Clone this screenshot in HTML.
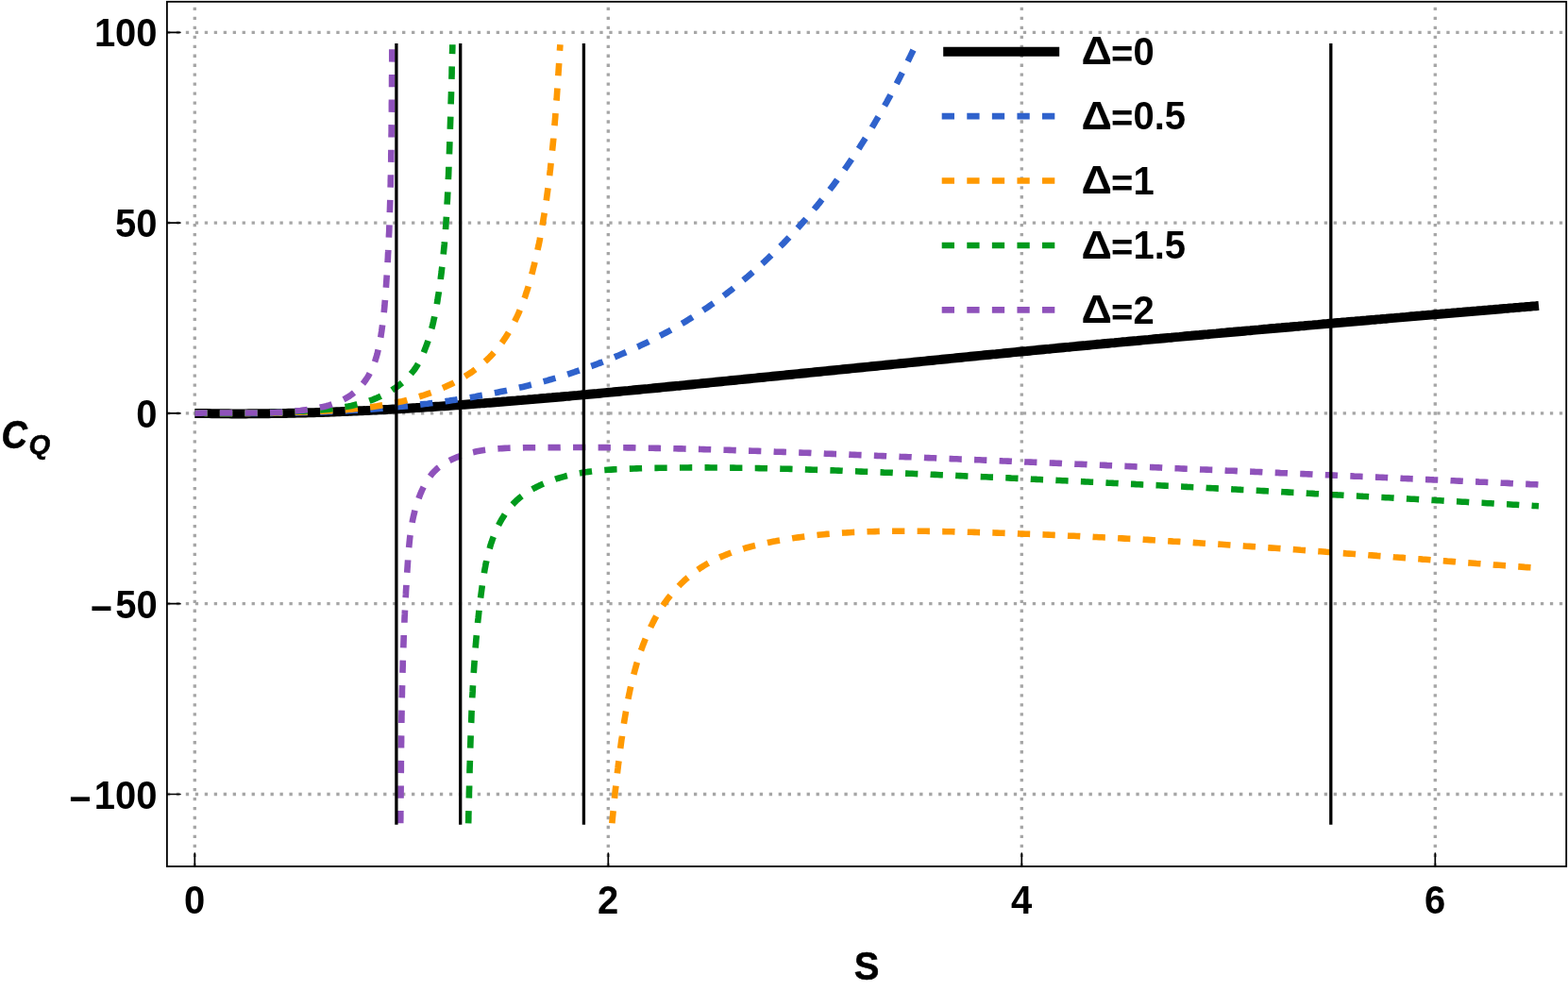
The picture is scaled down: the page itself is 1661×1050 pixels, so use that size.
<!DOCTYPE html>
<html lang="en">
<head>
<meta charset="utf-8">
<title>C_Q versus S</title>
<style>
html,body{margin:0;padding:0;background:#fff;}
body{width:1661px;height:1050px;overflow:hidden;}
svg{display:block;}
</style>
</head>
<body>
<svg width="1661" height="1050" viewBox="0 0 1661 1050">
<rect x="0" y="0" width="1661" height="1050" fill="#fff"/>
<g stroke="#a6a6a6" stroke-width="3.32" stroke-dasharray="3.32 6.646" fill="none">
<path d="M206.3,918.0 V1.8"/>
<path d="M644.3,918.0 V1.8"/>
<path d="M1082.3,918.0 V1.8"/>
<path d="M1520.3,918.0 V1.8"/>
<path d="M176.9,34.3 H1659.2"/>
<path d="M176.9,236.1 H1659.2"/>
<path d="M176.9,437.9 H1659.2"/>
<path d="M176.9,639.7 H1659.2"/>
<path d="M176.9,841.5 H1659.2"/>
</g>
<g fill="none" stroke-linejoin="round">
<path d="M206.3,437.9 L209.3,437.9 L212.3,438.0 L215.3,438.1 L218.3,438.1 L221.3,438.1 L224.3,438.2 L227.3,438.2 L230.4,438.3 L233.4,438.3 L236.4,438.3 L239.4,438.3 L242.4,438.3 L245.4,438.4 L248.4,438.4 L251.4,438.4 L254.4,438.4 L257.4,438.4 L260.5,438.4 L263.5,438.3 L266.5,438.3 L269.5,438.3 L272.5,438.3 L275.5,438.3 L278.5,438.2 L281.5,438.2 L284.5,438.2 L287.5,438.1 L290.5,438.1 L293.5,438.0 L296.6,438.0 L299.6,437.9 L302.6,437.9 L305.6,437.8 L308.6,437.8 L311.6,437.7 L314.6,437.6 L317.6,437.6 L320.6,437.5 L323.6,437.4 L326.6,437.3 L329.6,437.2 L332.6,437.2 L335.6,437.1 L338.6,437.0 L341.6,436.9 L344.7,436.8 L347.7,436.7 L350.7,436.6 L353.7,436.5 L356.7,436.3 L359.7,436.2 L362.7,436.1 L365.7,436.0 L368.7,435.9 L371.7,435.7 L374.7,435.6 L377.7,435.5 L380.7,435.3 L383.7,435.2 L386.7,435.1 L389.7,434.9 L392.7,434.8 L395.7,434.6 L398.7,434.5 L401.7,434.3 L404.7,434.2 L407.7,434.0 L410.7,433.9 L413.7,433.7 L416.7,433.5 L419.7,433.4 L422.8,433.2 L425.8,433.0 L428.8,432.9 L431.8,432.7 L434.8,432.5 L437.8,432.3 L440.8,432.1 L443.8,432.0 L446.8,431.8 L449.8,431.6 L452.8,431.4 L455.8,431.2 L458.8,431.0 L461.8,430.8 L464.8,430.6 L467.8,430.4 L470.8,430.2 L473.8,430.0 L476.8,429.8 L479.8,429.6 L482.8,429.4 L485.8,429.2 L488.8,428.9 L491.8,428.7 L494.8,428.5 L497.8,428.3 L500.8,428.1 L503.8,427.8 L506.8,427.6 L509.8,427.4 L512.8,427.2 L515.8,426.9 L518.8,426.7 L521.8,426.5 L524.8,426.2 L527.8,426.0 L530.8,425.8 L533.8,425.5 L536.8,425.3 L539.8,425.0 L542.8,424.8 L545.8,424.6 L548.7,424.3 L551.7,424.1 L554.7,423.8 L557.7,423.6 L560.7,423.3 L563.7,423.1 L566.7,422.8 L569.7,422.6 L572.7,422.3 L575.7,422.0 L578.7,421.8 L581.7,421.5 L584.7,421.3 L587.7,421.0 L590.7,420.7 L593.7,420.5 L596.7,420.2 L599.7,419.9 L602.7,419.7 L605.7,419.4 L608.7,419.1 L611.7,418.9 L614.7,418.6 L617.7,418.3 L620.7,418.1 L623.7,417.8 L626.7,417.5 L629.7,417.2 L632.7,417.0 L635.7,416.7 L638.7,416.4 L641.6,416.1 L644.6,415.8 L647.6,415.6 L650.6,415.3 L653.6,415.0 L656.6,414.7 L659.6,414.4 L662.6,414.1 L665.6,413.9 L668.6,413.6 L671.6,413.3 L674.6,413.0 L677.6,412.7 L680.6,412.4 L683.6,412.1 L686.6,411.9 L689.6,411.6 L692.6,411.3 L695.6,411.0 L698.6,410.7 L701.5,410.4 L704.5,410.1 L707.5,409.8 L710.5,409.5 L713.5,409.2 L716.5,408.9 L719.5,408.7 L722.5,408.4 L725.5,408.1 L728.5,407.8 L731.5,407.5 L734.5,407.2 L737.5,406.9 L740.5,406.6 L743.5,406.3 L746.5,406.0 L749.5,405.7 L752.4,405.4 L755.4,405.1 L758.4,404.8 L761.4,404.5 L764.4,404.2 L767.4,403.9 L770.4,403.6 L773.4,403.3 L776.4,403.0 L779.4,402.7 L782.4,402.4 L785.4,402.1 L788.4,401.8 L791.4,401.5 L794.4,401.2 L797.4,400.9 L800.3,400.6 L803.3,400.3 L806.3,400.0 L809.3,399.7 L812.3,399.4 L815.3,399.1 L818.3,398.8 L821.3,398.5 L824.3,398.2 L827.3,397.9 L830.3,397.6 L833.3,397.3 L836.3,397.0 L839.3,396.7 L842.3,396.4 L845.2,396.1 L848.2,395.8 L851.2,395.5 L854.2,395.2 L857.2,394.9 L860.2,394.6 L863.2,394.3 L866.2,394.0 L869.2,393.7 L872.2,393.4 L875.2,393.1 L878.2,392.8 L881.2,392.5 L884.2,392.2 L887.1,391.9 L890.1,391.6 L893.1,391.3 L896.1,391.0 L899.1,390.7 L902.1,390.4 L905.1,390.1 L908.1,389.8 L911.1,389.5 L914.1,389.2 L917.1,388.9 L920.1,388.6 L923.1,388.3 L926.1,388.0 L929.0,387.7 L932.0,387.4 L935.0,387.1 L938.0,386.8 L941.0,386.5 L944.0,386.2 L947.0,385.9 L950.0,385.6 L953.0,385.3 L956.0,385.0 L959.0,384.7 L962.0,384.4 L965.0,384.1 L968.0,383.8 L970.9,383.5 L973.9,383.2 L976.9,382.9 L979.9,382.6 L982.9,382.3 L985.9,382.0 L988.9,381.7 L991.9,381.4 L994.9,381.1 L997.9,380.8 L1000.9,380.5 L1003.9,380.2 L1006.9,379.9 L1009.9,379.6 L1012.9,379.3 L1015.8,379.0 L1018.8,378.7 L1021.8,378.4 L1024.8,378.1 L1027.8,377.8 L1030.8,377.5 L1033.8,377.2 L1036.8,376.9 L1039.8,376.6 L1042.8,376.3 L1045.8,376.0 L1048.8,375.7 L1051.8,375.4 L1054.8,375.2 L1057.8,374.9 L1060.7,374.6 L1063.7,374.3 L1066.7,374.0 L1069.7,373.7 L1072.7,373.4 L1075.7,373.1 L1078.7,372.8 L1081.7,372.5 L1084.7,372.2 L1087.7,372.0 L1090.7,371.7 L1093.7,371.4 L1096.7,371.1 L1099.7,370.8 L1102.7,370.5 L1105.7,370.2 L1108.6,369.9 L1111.6,369.7 L1114.6,369.4 L1117.6,369.1 L1120.6,368.8 L1123.6,368.5 L1126.6,368.2 L1129.6,367.9 L1132.6,367.7 L1135.6,367.4 L1138.6,367.1 L1141.6,366.8 L1144.6,366.5 L1147.6,366.2 L1150.6,366.0 L1153.6,365.7 L1156.6,365.4 L1159.6,365.1 L1162.5,364.8 L1165.5,364.6 L1168.5,364.3 L1171.5,364.0 L1174.5,363.7 L1177.5,363.4 L1180.5,363.2 L1183.5,362.9 L1186.5,362.6 L1189.5,362.3 L1192.5,362.1 L1195.5,361.8 L1198.5,361.5 L1201.5,361.2 L1204.5,361.0 L1207.5,360.7 L1210.5,360.4 L1213.5,360.1 L1216.5,359.9 L1219.5,359.6 L1222.5,359.3 L1225.4,359.0 L1228.4,358.8 L1231.4,358.5 L1234.4,358.2 L1237.4,357.9 L1240.4,357.7 L1243.4,357.4 L1246.4,357.1 L1249.4,356.9 L1252.4,356.6 L1255.4,356.3 L1258.4,356.0 L1261.4,355.8 L1264.4,355.5 L1267.4,355.2 L1270.4,355.0 L1273.4,354.7 L1276.4,354.4 L1279.4,354.2 L1282.4,353.9 L1285.4,353.6 L1288.4,353.4 L1291.4,353.1 L1294.3,352.8 L1297.3,352.6 L1300.3,352.3 L1303.3,352.0 L1306.3,351.8 L1309.3,351.5 L1312.3,351.2 L1315.3,351.0 L1318.3,350.7 L1321.3,350.4 L1324.3,350.2 L1327.3,349.9 L1330.3,349.6 L1333.3,349.4 L1336.3,349.1 L1339.3,348.8 L1342.3,348.6 L1345.3,348.3 L1348.3,348.0 L1351.3,347.8 L1354.3,347.5 L1357.3,347.3 L1360.3,347.0 L1363.3,346.7 L1366.3,346.5 L1369.3,346.2 L1372.2,345.9 L1375.2,345.7 L1378.2,345.4 L1381.2,345.2 L1384.2,344.9 L1387.2,344.6 L1390.2,344.4 L1393.2,344.1 L1396.2,343.9 L1399.2,343.6 L1402.2,343.3 L1405.2,343.1 L1408.2,342.8 L1411.2,342.6 L1414.2,342.3 L1417.2,342.0 L1420.2,341.8 L1423.2,341.5 L1426.2,341.3 L1429.2,341.0 L1432.2,340.7 L1435.2,340.5 L1438.2,340.2 L1441.2,340.0 L1444.2,339.7 L1447.2,339.5 L1450.2,339.2 L1453.2,338.9 L1456.2,338.7 L1459.2,338.4 L1462.2,338.2 L1465.1,337.9 L1468.1,337.7 L1471.1,337.4 L1474.1,337.1 L1477.1,336.9 L1480.1,336.6 L1483.1,336.4 L1486.1,336.1 L1489.1,335.9 L1492.1,335.6 L1495.1,335.3 L1498.1,335.1 L1501.1,334.8 L1504.1,334.6 L1507.1,334.3 L1510.1,334.1 L1513.1,333.8 L1516.1,333.6 L1519.1,333.3 L1522.1,333.0 L1525.1,332.8 L1528.1,332.5 L1531.1,332.3 L1534.1,332.0 L1537.1,331.8 L1540.1,331.5 L1543.1,331.3 L1546.1,331.0 L1549.1,330.8 L1552.1,330.5 L1555.1,330.2 L1558.1,330.0 L1561.1,329.7 L1564.1,329.5 L1567.1,329.2 L1570.1,329.0 L1573.1,328.7 L1576.0,328.5 L1579.0,328.2 L1582.0,328.0 L1585.0,327.7 L1588.0,327.5 L1591.0,327.2 L1594.0,326.9 L1597.0,326.7 L1600.0,326.4 L1603.0,326.2 L1606.0,325.9 L1609.0,325.7 L1612.0,325.4 L1615.0,325.2 L1618.0,324.9 L1621.0,324.7 L1624.0,324.4 L1627.0,324.2 L1630.0,323.9" stroke="#000000" stroke-width="9.97"/>
<path d="M206.3,437.7 L209.3,437.7 L212.3,437.7 L215.3,437.8 L218.3,437.8 L221.4,437.8 L224.4,437.9 L227.4,437.9 L230.4,437.9 L233.4,437.9 L236.4,438.0 L239.4,438.0 L242.4,438.0 L245.4,438.0 L248.5,438.0 L251.5,438.0 L254.5,438.0 L257.5,438.0 L260.5,438.0 L263.5,438.0 L266.5,438.0 L269.6,438.0 L272.6,438.0 L275.6,438.0 L278.6,437.9 L281.6,437.9 L284.6,437.9 L287.6,437.9 L290.6,437.8 L293.7,437.8 L296.7,437.7 L299.7,437.7 L302.7,437.6 L305.7,437.6 L308.7,437.5 L311.7,437.4 L314.7,437.4 L317.7,437.3 L320.8,437.2 L323.8,437.1 L326.8,437.0 L329.8,436.9 L332.8,436.8 L335.8,436.7 L338.8,436.6 L341.8,436.5 L344.8,436.4 L347.8,436.3 L350.9,436.1 L353.9,436.0 L356.9,435.8 L359.9,435.7 L362.9,435.5 L365.9,435.4 L368.9,435.2 L371.9,435.0 L374.9,434.8 L377.9,434.6 L380.9,434.5 L383.9,434.3 L386.9,434.0 L389.9,433.8 L392.9,433.6 L395.9,433.4 L398.9,433.1 L401.9,432.9 L404.9,432.7 L407.9,432.4 L410.9,432.1 L413.9,431.9 L416.9,431.6 L419.9,431.3 L422.9,431.0 L425.9,430.7 L428.9,430.4 L431.9,430.1 L434.9,429.8 L437.9,429.4 L440.9,429.1 L443.9,428.8 L446.9,428.4 L449.9,428.0 L452.9,427.7 L455.9,427.3 L458.9,426.9 L461.8,426.5 L464.8,426.1 L467.8,425.7 L470.8,425.3 L473.8,424.9 L476.8,424.4 L479.7,424.0 L482.7,423.6 L485.7,423.1 L488.7,422.6 L491.7,422.2 L494.6,421.7 L497.6,421.2 L500.6,420.7 L503.5,420.2 L506.5,419.6 L509.5,419.1 L512.4,418.6 L515.4,418.0 L518.4,417.5 L521.3,416.9 L524.3,416.3 L527.2,415.7 L530.2,415.1 L533.1,414.5 L536.1,413.9 L539.0,413.3 L541.9,412.6 L544.9,411.9 L547.8,411.3 L550.7,410.6 L553.7,409.9 L556.6,409.2 L559.5,408.5 L562.4,407.7 L565.4,407.0 L568.3,406.2 L571.2,405.5 L574.1,404.7 L577.0,403.9 L579.9,403.1 L582.8,402.2 L585.7,401.4 L588.6,400.6 L591.4,399.7 L594.3,398.8 L597.2,397.9 L600.1,397.0 L602.9,396.1 L605.8,395.1 L608.7,394.2 L611.5,393.2 L614.4,392.3 L617.2,391.3 L620.1,390.3 L622.9,389.2 L625.7,388.2 L628.6,387.2 L631.4,386.1 L634.2,385.0 L637.0,384.0 L639.8,382.9 L642.6,381.8 L645.4,380.6 L648.2,379.5 L651.0,378.3 L653.8,377.2 L656.6,376.0 L659.3,374.8 L662.1,373.6 L664.8,372.4 L667.6,371.1 L670.3,369.9 L673.1,368.6 L675.8,367.4 L678.5,366.1 L681.2,364.8 L684.0,363.5 L686.7,362.2 L689.4,360.8 L692.0,359.5 L694.7,358.1 L697.4,356.7 L700.1,355.3 L702.7,353.9 L705.4,352.5 L708.0,351.1 L710.7,349.6 L713.3,348.1 L715.9,346.7 L718.5,345.2 L721.1,343.6 L723.7,342.1 L726.3,340.6 L728.8,339.0 L731.4,337.4 L734.0,335.8 L736.5,334.2 L739.0,332.6 L741.5,330.9 L744.1,329.3 L746.6,327.6 L749.1,325.9 L751.5,324.2 L754.0,322.4 L756.5,320.7 L758.9,319.0 L761.4,317.2 L763.8,315.4 L766.2,313.6 L768.6,311.8 L771.0,310.0 L773.4,308.1 L775.8,306.3 L778.1,304.4 L780.5,302.5 L782.8,300.7 L785.2,298.7 L787.5,296.8 L789.8,294.9 L792.1,293.0 L794.4,291.0 L796.7,289.0 L799.0,287.1 L801.2,285.1 L803.5,283.1 L805.7,281.0 L807.9,279.0 L810.1,277.0 L812.3,274.9 L814.5,272.8 L816.7,270.8 L818.9,268.7 L821.1,266.6 L823.2,264.5 L825.3,262.3 L827.5,260.2 L829.6,258.1 L831.7,255.9 L833.8,253.7 L835.9,251.6 L837.9,249.4 L840.0,247.2 L842.0,245.0 L844.1,242.7 L846.1,240.5 L848.1,238.3 L850.1,236.0 L852.1,233.8 L854.1,231.5 L856.1,229.2 L858.0,226.9 L860.0,224.6 L861.9,222.3 L863.8,220.0 L865.8,217.7 L867.7,215.4 L869.5,213.0 L871.4,210.7 L873.3,208.3 L875.2,205.9 L877.0,203.6 L878.8,201.2 L880.7,198.8 L882.5,196.4 L884.3,194.0 L886.1,191.5 L887.9,189.1 L889.6,186.7 L891.4,184.2 L893.1,181.8 L894.9,179.3 L896.6,176.9 L898.3,174.4 L900.0,171.9 L901.7,169.4 L903.4,166.9 L905.1,164.4 L906.8,161.9 L908.4,159.4 L910.1,156.9 L911.7,154.3 L913.3,151.8 L914.9,149.3 L916.5,146.7 L918.1,144.2 L919.7,141.6 L921.3,139.0 L922.9,136.5 L924.4,133.9 L926.0,131.3 L927.5,128.7 L929.0,126.1 L930.6,123.5 L932.1,120.9 L933.6,118.3 L935.1,115.7 L936.5,113.0 L938.0,110.4 L939.5,107.8 L940.9,105.1 L942.4,102.5 L943.8,99.8 L945.2,97.2 L946.7,94.5 L948.1,91.9 L949.5,89.2 L950.9,86.5 L952.3,83.9 L953.6,81.2 L955.0,78.5 L956.4,75.8 L957.7,73.1 L959.1,70.4 L960.4,67.7 L961.7,65.0 L963.0,62.3 L964.3,59.6 L965.6,56.9 L966.9,54.2 L968.2,51.4 L969.5,48.7 L970.8,46.0" stroke="#2f62cc" stroke-width="6.64" stroke-dasharray="13.29 13.29"/>
<path d="M206.3,437.7 L209.3,437.7 L212.3,437.8 L215.4,437.8 L218.4,437.9 L221.4,437.9 L224.4,437.9 L227.4,437.9 L230.5,438.0 L233.5,438.0 L236.5,438.0 L239.5,438.0 L242.6,438.0 L245.6,438.0 L248.6,438.0 L251.6,438.0 L254.6,437.9 L257.7,437.9 L260.7,437.9 L263.7,437.9 L266.7,437.8 L269.7,437.8 L272.8,437.7 L275.8,437.7 L278.8,437.6 L281.8,437.6 L284.8,437.5 L287.9,437.4 L290.9,437.4 L293.9,437.3 L296.9,437.2 L299.9,437.2 L303.0,437.1 L306.0,437.0 L309.0,436.9 L312.0,436.8 L315.0,436.7 L318.1,436.6 L321.1,436.5 L324.1,436.4 L327.1,436.3 L330.1,436.2 L333.2,436.0 L336.2,435.9 L339.2,435.8 L342.2,435.6 L345.2,435.5 L348.3,435.3 L351.3,435.1 L354.3,434.9 L357.3,434.8 L360.3,434.5 L363.3,434.3 L366.3,434.1 L369.3,433.8 L372.3,433.6 L375.3,433.3 L378.3,433.0 L381.3,432.6 L384.3,432.3 L387.3,431.9 L390.3,431.6 L393.3,431.2 L396.3,430.7 L399.3,430.3 L402.3,429.8 L405.3,429.3 L408.3,428.8 L411.2,428.3 L414.2,427.7 L417.2,427.1 L420.1,426.5 L423.1,425.8 L426.0,425.2 L429.0,424.5 L431.9,423.7 L434.8,422.9 L437.7,422.1 L440.6,421.3 L443.5,420.4 L446.4,419.5 L449.3,418.6 L452.1,417.6 L455.0,416.6 L457.8,415.6 L460.6,414.5 L463.5,413.4 L466.2,412.2 L469.0,411.0 L471.8,409.8 L474.5,408.5 L477.3,407.2 L480.0,405.9 L482.7,404.5 L485.3,403.0 L488.0,401.5 L490.6,400.0 L493.2,398.4 L495.7,396.8 L498.3,395.1 L500.8,393.4 L503.2,391.6 L505.6,389.8 L508.0,388.0 L510.3,386.0 L512.6,384.1 L514.9,382.1 L517.1,380.0 L519.2,377.9 L521.3,375.7 L523.3,373.5 L525.3,371.2 L527.2,368.9 L529.1,366.5 L530.9,364.1 L532.7,361.7 L534.4,359.2 L536.1,356.7 L537.7,354.1 L539.2,351.6 L540.8,349.0 L542.2,346.3 L543.6,343.7 L545.0,341.0 L546.3,338.3 L547.6,335.6 L548.9,332.8 L550.1,330.1 L551.2,327.3 L552.4,324.5 L553.5,321.6 L554.5,318.8 L555.6,315.9 L556.6,313.1 L557.5,310.2 L558.5,307.3 L559.4,304.4 L560.2,301.5 L561.1,298.6 L561.9,295.6 L562.7,292.7 L563.5,289.8 L564.3,286.8 L565.0,283.9 L565.8,280.9 L566.5,278.0 L567.2,275.0 L567.9,272.1 L568.5,269.1 L569.2,266.2 L569.8,263.2 L570.5,260.3 L571.1,257.3 L571.7,254.4 L572.2,251.4 L572.8,248.4 L573.3,245.5 L573.9,242.5 L574.4,239.5 L574.9,236.6 L575.4,233.6 L575.9,230.6 L576.4,227.7 L576.9,224.7 L577.3,221.7 L577.8,218.7 L578.2,215.8 L578.7,212.8 L579.1,209.8 L579.5,206.8 L579.9,203.8 L580.3,200.8 L580.7,197.8 L581.1,194.8 L581.4,191.8 L581.8,188.9 L582.2,185.9 L582.5,182.9 L582.9,179.9 L583.2,176.9 L583.5,173.9 L583.9,170.8 L584.2,167.8 L584.5,164.8 L584.8,161.8 L585.1,158.8 L585.4,155.8 L585.7,152.8 L586.0,149.8 L586.3,146.8 L586.5,143.8 L586.8,140.7 L587.1,137.7 L587.3,134.7 L587.6,131.7 L587.8,128.7 L588.1,125.7 L588.3,122.7 L588.5,119.6 L588.8,116.6 L589.0,113.6 L589.2,110.6 L589.4,107.6 L589.7,104.6 L589.9,101.5 L590.1,98.5 L590.3,95.5 L590.5,92.5 L590.7,89.5 L590.9,86.5 L591.1,83.4 L591.3,80.4 L591.5,77.4 L591.7,74.4 L591.9,71.4 L592.1,68.4 L592.3,65.4 L592.4,62.4 L592.6,59.4 L592.8,56.3 L593.0,53.3 L593.2,50.3 L593.4,47.3" stroke="#ff9900" stroke-width="6.64" stroke-dasharray="13.29 13.29"/>
<path d="M648.3,873.5 L648.5,870.5 L648.8,867.5 L649.1,864.5 L649.4,861.5 L649.7,858.5 L650.0,855.5 L650.3,852.5 L650.6,849.5 L650.9,846.5 L651.2,843.5 L651.5,840.5 L651.8,837.5 L652.2,834.5 L652.5,831.5 L652.8,828.6 L653.2,825.6 L653.5,822.6 L653.9,819.6 L654.2,816.6 L654.6,813.6 L654.9,810.7 L655.3,807.7 L655.7,804.7 L656.1,801.7 L656.5,798.7 L656.8,795.8 L657.2,792.8 L657.6,789.8 L658.0,786.8 L658.4,783.8 L658.9,780.8 L659.3,777.9 L659.7,774.9 L660.1,771.9 L660.6,768.9 L661.0,765.9 L661.5,762.9 L662.0,760.0 L662.5,757.0 L663.0,754.0 L663.5,751.1 L664.0,748.1 L664.6,745.1 L665.1,742.2 L665.7,739.2 L666.3,736.2 L666.9,733.3 L667.5,730.3 L668.2,727.4 L668.9,724.5 L669.6,721.5 L670.3,718.6 L671.0,715.7 L671.8,712.8 L672.6,709.9 L673.4,707.0 L674.2,704.1 L675.1,701.2 L676.0,698.3 L676.9,695.4 L677.9,692.6 L678.8,689.7 L679.9,686.9 L680.9,684.0 L682.0,681.2 L683.1,678.4 L684.3,675.6 L685.4,672.8 L686.7,670.0 L687.9,667.3 L689.2,664.5 L690.6,661.8 L691.9,659.1 L693.3,656.4 L694.8,653.7 L696.3,651.1 L697.8,648.5 L699.4,645.9 L701.0,643.4 L702.7,640.9 L704.4,638.4 L706.2,636.0 L708.0,633.6 L709.9,631.2 L711.8,628.9 L713.8,626.6 L715.8,624.4 L717.8,622.2 L719.9,620.0 L722.0,617.9 L724.2,615.8 L726.4,613.8 L728.7,611.9 L730.9,609.9 L733.3,608.1 L735.6,606.3 L738.0,604.5 L740.5,602.8 L743.0,601.1 L745.5,599.5 L748.0,598.0 L750.6,596.5 L753.2,595.1 L755.8,593.7 L758.5,592.4 L761.2,591.1 L763.9,589.9 L766.7,588.7 L769.4,587.6 L772.2,586.5 L775.0,585.4 L777.9,584.4 L780.7,583.5 L783.6,582.5 L786.5,581.7 L789.4,580.8 L792.3,580.0 L795.2,579.2 L798.2,578.4 L801.1,577.7 L804.1,577.0 L807.0,576.3 L810.0,575.7 L813.0,575.0 L815.9,574.4 L818.9,573.8 L821.9,573.3 L824.9,572.7 L827.9,572.2 L830.9,571.7 L833.8,571.2 L836.8,570.7 L839.8,570.2 L842.8,569.8 L845.8,569.4 L848.8,569.0 L851.8,568.6 L854.8,568.2 L857.8,567.8 L860.8,567.5 L863.8,567.1 L866.8,566.8 L869.7,566.5 L872.7,566.2 L875.7,565.9 L878.7,565.7 L881.7,565.4 L884.7,565.2 L887.7,565.0 L890.7,564.7 L893.7,564.5 L896.7,564.4 L899.7,564.2 L902.7,564.0 L905.7,563.9 L908.8,563.7 L911.8,563.6 L914.8,563.5 L917.8,563.3 L920.8,563.2 L923.8,563.2 L926.8,563.1 L929.8,563.0 L932.8,562.9 L935.8,562.9 L938.8,562.8 L941.8,562.8 L944.8,562.7 L947.8,562.7 L950.8,562.7 L953.9,562.7 L956.9,562.7 L959.9,562.7 L962.9,562.7 L965.9,562.7 L968.9,562.7 L971.9,562.7 L974.9,562.8 L977.9,562.8 L980.9,562.8 L984.0,562.9 L987.0,562.9 L990.0,563.0 L993.0,563.0 L996.0,563.1 L999.0,563.1 L1002.0,563.2 L1005.0,563.3 L1008.0,563.3 L1011.0,563.4 L1014.1,563.5 L1017.1,563.5 L1020.1,563.6 L1023.1,563.7 L1026.1,563.8 L1029.1,563.8 L1032.1,563.9 L1035.1,564.0 L1038.1,564.1 L1041.1,564.2 L1044.2,564.3 L1047.2,564.3 L1050.2,564.4 L1053.2,564.5 L1056.2,564.6 L1059.2,564.7 L1062.2,564.8 L1065.2,564.9 L1068.2,565.0 L1071.2,565.1 L1074.2,565.2 L1077.3,565.3 L1080.3,565.5 L1083.3,565.6 L1086.3,565.7 L1089.3,565.8 L1092.3,565.9 L1095.3,566.0 L1098.3,566.1 L1101.3,566.3 L1104.3,566.4 L1107.3,566.5 L1110.3,566.6 L1113.4,566.8 L1116.4,566.9 L1119.4,567.0 L1122.4,567.2 L1125.4,567.3 L1128.4,567.4 L1131.4,567.6 L1134.4,567.7 L1137.4,567.8 L1140.4,568.0 L1143.4,568.1 L1146.4,568.3 L1149.4,568.4 L1152.5,568.6 L1155.5,568.7 L1158.5,568.9 L1161.5,569.0 L1164.5,569.2 L1167.5,569.3 L1170.5,569.5 L1173.5,569.6 L1176.5,569.8 L1179.5,569.9 L1182.5,570.1 L1185.5,570.3 L1188.5,570.4 L1191.5,570.6 L1194.5,570.8 L1197.6,570.9 L1200.6,571.1 L1203.6,571.3 L1206.6,571.4 L1209.6,571.6 L1212.6,571.8 L1215.6,571.9 L1218.6,572.1 L1221.6,572.3 L1224.6,572.5 L1227.6,572.7 L1230.6,572.8 L1233.6,573.0 L1236.6,573.2 L1239.6,573.4 L1242.6,573.6 L1245.6,573.7 L1248.7,573.9 L1251.7,574.1 L1254.7,574.3 L1257.7,574.5 L1260.7,574.7 L1263.7,574.9 L1266.7,575.1 L1269.7,575.3 L1272.7,575.5 L1275.7,575.7 L1278.7,575.9 L1281.7,576.0 L1284.7,576.2 L1287.7,576.4 L1290.7,576.6 L1293.7,576.8 L1296.7,577.0 L1299.7,577.2 L1302.7,577.5 L1305.7,577.7 L1308.7,577.9 L1311.8,578.1 L1314.8,578.3 L1317.8,578.5 L1320.8,578.7 L1323.8,578.9 L1326.8,579.1 L1329.8,579.3 L1332.8,579.5 L1335.8,579.7 L1338.8,579.9 L1341.8,580.2 L1344.8,580.4 L1347.8,580.6 L1350.8,580.8 L1353.8,581.0 L1356.8,581.2 L1359.8,581.5 L1362.8,581.7 L1365.8,581.9 L1368.8,582.1 L1371.8,582.3 L1374.8,582.5 L1377.8,582.8 L1380.8,583.0 L1383.8,583.2 L1386.8,583.4 L1389.8,583.7 L1392.9,583.9 L1395.9,584.1 L1398.9,584.3 L1401.9,584.5 L1404.9,584.8 L1407.9,585.0 L1410.9,585.2 L1413.9,585.4 L1416.9,585.7 L1419.9,585.9 L1422.9,586.1 L1425.9,586.4 L1428.9,586.6 L1431.9,586.8 L1434.9,587.0 L1437.9,587.3 L1440.9,587.5 L1443.9,587.7 L1446.9,587.9 L1449.9,588.2 L1452.9,588.4 L1455.9,588.6 L1458.9,588.9 L1461.9,589.1 L1464.9,589.3 L1467.9,589.6 L1470.9,589.8 L1473.9,590.0 L1476.9,590.3 L1479.9,590.5 L1482.9,590.7 L1485.9,590.9 L1488.9,591.2 L1491.9,591.4 L1494.9,591.6 L1497.9,591.9 L1500.9,592.1 L1503.9,592.3 L1506.9,592.6 L1509.9,592.8 L1512.9,593.0 L1515.9,593.3 L1519.0,593.5 L1522.0,593.7 L1525.0,594.0 L1528.0,594.2 L1531.0,594.4 L1534.0,594.7 L1537.0,594.9 L1540.0,595.1 L1543.0,595.4 L1546.0,595.6 L1549.0,595.8 L1552.0,596.1 L1555.0,596.3 L1558.0,596.5 L1561.0,596.7 L1564.0,597.0 L1567.0,597.2 L1570.0,597.4 L1573.0,597.7 L1576.0,597.9 L1579.0,598.1 L1582.0,598.4 L1585.0,598.6 L1588.0,598.8 L1591.0,599.0 L1594.0,599.3 L1597.0,599.5 L1600.0,599.7 L1603.0,600.0 L1606.0,600.2 L1609.0,600.4 L1612.0,600.6 L1615.0,600.9 L1618.0,601.1 L1621.0,601.3 L1624.0,601.5 L1627.0,601.8 L1630.0,602.0" stroke="#ff9900" stroke-width="6.64" stroke-dasharray="13.29 13.29" stroke-dashoffset="-1.2"/>
<path d="M206.3,437.7 L209.3,437.7 L212.4,437.8 L215.4,437.8 L218.5,437.9 L221.5,437.9 L224.5,438.0 L227.5,438.0 L230.6,438.0 L233.6,438.0 L236.6,438.0 L239.6,438.0 L242.6,438.0 L245.6,438.0 L248.6,438.0 L251.6,437.9 L254.6,437.9 L257.6,437.8 L260.7,437.8 L263.7,437.7 L266.7,437.7 L269.7,437.6 L272.7,437.5 L275.6,437.5 L278.6,437.4 L281.6,437.3 L284.7,437.2 L287.7,437.1 L290.7,437.0 L293.7,436.9 L296.7,436.7 L299.7,436.6 L302.7,436.5 L305.7,436.4 L308.7,436.2 L311.7,436.1 L314.8,435.9 L317.8,435.8 L320.8,435.6 L323.8,435.4 L326.9,435.3 L329.9,435.1 L332.9,434.9 L336.0,434.7 L339.0,434.4 L342.0,434.2 L345.1,433.9 L348.1,433.6 L351.1,433.3 L354.1,432.9 L357.1,432.5 L360.1,432.1 L363.1,431.6 L366.1,431.1 L369.0,430.6 L372.0,430.0 L374.9,429.3 L377.8,428.6 L380.8,427.9 L383.6,427.1 L386.5,426.2 L389.4,425.3 L392.2,424.3 L395.1,423.3 L397.9,422.2 L400.6,421.0 L403.4,419.8 L406.1,418.4 L408.8,417.1 L411.5,415.6 L414.1,414.1 L416.6,412.4 L419.1,410.8 L421.6,409.0 L424.0,407.2 L426.3,405.3 L428.5,403.3 L430.7,401.2 L432.8,399.1 L434.8,396.8 L436.7,394.5 L438.5,392.2 L440.3,389.7 L441.9,387.2 L443.4,384.5 L444.9,381.9 L446.3,379.2 L447.6,376.4 L448.8,373.6 L449.9,370.8 L451.0,367.9 L452.1,365.0 L453.1,362.2 L454.1,359.3 L455.0,356.4 L455.8,353.5 L456.6,350.6 L457.4,347.7 L458.2,344.7 L458.9,341.8 L459.5,338.8 L460.2,335.9 L460.8,332.9 L461.4,330.0 L461.9,327.0 L462.5,324.1 L463.0,321.1 L463.5,318.1 L463.9,315.1 L464.4,312.2 L464.9,309.2 L465.3,306.2 L465.7,303.2 L466.2,300.2 L466.6,297.3 L466.9,294.3 L467.3,291.3 L467.7,288.3 L468.0,285.3 L468.4,282.3 L468.7,279.3 L469.0,276.3 L469.4,273.3 L469.7,270.3 L469.9,267.3 L470.2,264.3 L470.5,261.3 L470.8,258.3 L471.0,255.3 L471.3,252.3 L471.5,249.3 L471.7,246.3 L472.0,243.3 L472.2,240.3 L472.4,237.2 L472.6,234.2 L472.8,231.2 L473.0,228.2 L473.1,225.2 L473.3,222.2 L473.5,219.2 L473.6,216.1 L473.8,213.1 L474.0,210.1 L474.1,207.1 L474.3,204.1 L474.4,201.1 L474.5,198.1 L474.7,195.0 L474.8,192.0 L474.9,189.0 L475.1,186.0 L475.2,183.0 L475.3,180.0 L475.4,176.9 L475.5,173.9 L475.7,170.9 L475.8,167.9 L475.9,164.9 L476.0,161.9 L476.1,158.9 L476.2,155.8 L476.3,152.8 L476.4,149.8 L476.5,146.8 L476.6,143.8 L476.7,140.8 L476.8,137.8 L476.9,134.7 L477.0,131.7 L477.1,128.7 L477.2,125.7 L477.3,122.7 L477.4,119.7 L477.5,116.7 L477.6,113.6 L477.6,110.6 L477.7,107.6 L477.8,104.6 L477.9,101.6 L478.0,98.6 L478.1,95.6 L478.1,92.5 L478.2,89.5 L478.3,86.5 L478.4,83.5 L478.5,80.5 L478.6,77.5 L478.6,74.5 L478.7,71.4 L478.8,68.4 L478.9,65.4 L479.0,62.4 L479.0,59.4 L479.1,56.3 L479.2,53.3 L479.3,50.3 L479.3,47.3" stroke="#009a1c" stroke-width="6.64" stroke-dasharray="13.29 13.29"/>
<path d="M496.1,873.5 L496.2,870.5 L496.3,867.5 L496.3,864.5 L496.4,861.5 L496.5,858.5 L496.6,855.5 L496.6,852.5 L496.7,849.5 L496.8,846.5 L496.9,843.5 L496.9,840.5 L497.0,837.5 L497.1,834.5 L497.1,831.5 L497.2,828.5 L497.3,825.5 L497.4,822.4 L497.5,819.4 L497.5,816.4 L497.6,813.4 L497.7,810.4 L497.8,807.4 L497.9,804.4 L497.9,801.3 L498.0,798.3 L498.1,795.3 L498.2,792.3 L498.3,789.3 L498.4,786.3 L498.5,783.2 L498.6,780.2 L498.7,777.2 L498.8,774.2 L498.9,771.2 L499.0,768.2 L499.2,765.2 L499.3,762.2 L499.4,759.2 L499.5,756.2 L499.6,753.1 L499.8,750.1 L499.9,747.1 L500.1,744.2 L500.2,741.2 L500.3,738.2 L500.5,735.2 L500.7,732.2 L500.8,729.2 L501.0,726.2 L501.1,723.2 L501.3,720.2 L501.5,717.2 L501.7,714.2 L501.9,711.2 L502.1,708.2 L502.3,705.3 L502.5,702.3 L502.7,699.3 L502.9,696.3 L503.1,693.3 L503.4,690.3 L503.6,687.3 L503.8,684.3 L504.1,681.4 L504.3,678.4 L504.6,675.4 L504.9,672.4 L505.2,669.4 L505.4,666.4 L505.7,663.4 L506.0,660.4 L506.3,657.4 L506.7,654.4 L507.0,651.4 L507.3,648.4 L507.6,645.4 L508.0,642.4 L508.4,639.4 L508.7,636.4 L509.1,633.4 L509.5,630.4 L509.9,627.4 L510.3,624.4 L510.7,621.4 L511.1,618.4 L511.5,615.4 L512.0,612.4 L512.5,609.4 L513.0,606.4 L513.5,603.4 L514.1,600.4 L514.6,597.4 L515.3,594.5 L515.9,591.5 L516.6,588.6 L517.4,585.7 L518.1,582.8 L519.0,579.9 L519.8,577.0 L520.8,574.2 L521.7,571.4 L522.8,568.6 L523.9,565.8 L525.0,563.0 L526.2,560.3 L527.5,557.6 L528.9,555.0 L530.3,552.3 L531.8,549.7 L533.4,547.2 L535.0,544.6 L536.7,542.2 L538.5,539.8 L540.4,537.4 L542.4,535.1 L544.5,532.9 L546.6,530.8 L548.9,528.8 L551.2,526.8 L553.6,525.0 L556.1,523.2 L558.6,521.5 L561.2,519.9 L563.8,518.4 L566.5,516.9 L569.2,515.6 L571.9,514.2 L574.6,513.0 L577.4,511.8 L580.1,510.7 L582.9,509.6 L585.7,508.6 L588.5,507.6 L591.4,506.7 L594.2,505.9 L597.1,505.1 L599.9,504.3 L602.8,503.6 L605.7,503.0 L608.6,502.4 L611.6,501.8 L614.5,501.3 L617.4,500.8 L620.4,500.3 L623.3,499.9 L626.3,499.5 L629.3,499.1 L632.3,498.8 L635.2,498.5 L638.2,498.2 L641.2,498.0 L644.2,497.8 L647.2,497.6 L650.3,497.4 L653.3,497.2 L656.3,497.1 L659.3,496.9 L662.3,496.8 L665.4,496.7 L668.4,496.6 L671.4,496.5 L674.4,496.4 L677.5,496.3 L680.5,496.2 L683.5,496.1 L686.5,496.1 L689.6,496.0 L692.6,495.9 L695.6,495.9 L698.6,495.8 L701.6,495.8 L704.7,495.7 L707.7,495.7 L710.7,495.6 L713.7,495.6 L716.7,495.6 L719.8,495.5 L722.8,495.5 L725.8,495.5 L728.8,495.5 L731.8,495.4 L734.8,495.4 L737.8,495.4 L740.9,495.4 L743.9,495.4 L746.9,495.4 L749.9,495.4 L752.9,495.5 L755.9,495.5 L758.9,495.5 L761.9,495.5 L765.0,495.5 L768.0,495.6 L771.0,495.6 L774.0,495.6 L777.0,495.6 L780.0,495.7 L783.0,495.7 L786.0,495.8 L789.0,495.8 L792.0,495.9 L795.0,495.9 L798.0,496.0 L801.0,496.0 L804.1,496.1 L807.1,496.2 L810.1,496.2 L813.1,496.3 L816.1,496.4 L819.1,496.4 L822.1,496.5 L825.1,496.6 L828.1,496.7 L831.1,496.7 L834.1,496.8 L837.1,496.9 L840.1,497.0 L843.1,497.1 L846.1,497.2 L849.1,497.3 L852.1,497.4 L855.1,497.5 L858.1,497.6 L861.1,497.7 L864.1,497.8 L867.1,497.9 L870.1,498.0 L873.1,498.1 L876.1,498.2 L879.1,498.3 L882.1,498.4 L885.1,498.5 L888.1,498.6 L891.1,498.7 L894.1,498.9 L897.1,499.0 L900.1,499.1 L903.2,499.2 L906.2,499.3 L909.2,499.5 L912.2,499.6 L915.2,499.7 L918.2,499.8 L921.2,499.9 L924.2,500.1 L927.2,500.2 L930.2,500.3 L933.2,500.4 L936.2,500.6 L939.2,500.7 L942.2,500.8 L945.2,500.9 L948.2,501.1 L951.2,501.2 L954.2,501.3 L957.2,501.5 L960.2,501.6 L963.2,501.7 L966.2,501.8 L969.2,502.0 L972.2,502.1 L975.2,502.2 L978.2,502.4 L981.2,502.5 L984.2,502.6 L987.2,502.8 L990.2,502.9 L993.2,503.0 L996.2,503.2 L999.2,503.3 L1002.2,503.4 L1005.2,503.6 L1008.2,503.7 L1011.2,503.8 L1014.2,504.0 L1017.2,504.1 L1020.2,504.2 L1023.2,504.4 L1026.2,504.5 L1029.3,504.6 L1032.3,504.8 L1035.3,504.9 L1038.3,505.1 L1041.3,505.2 L1044.3,505.3 L1047.3,505.5 L1050.3,505.6 L1053.3,505.7 L1056.3,505.9 L1059.3,506.0 L1062.3,506.2 L1065.3,506.3 L1068.3,506.4 L1071.3,506.6 L1074.3,506.7 L1077.3,506.9 L1080.3,507.0 L1083.3,507.2 L1086.3,507.3 L1089.3,507.4 L1092.3,507.6 L1095.3,507.7 L1098.3,507.9 L1101.4,508.0 L1104.4,508.2 L1107.4,508.3 L1110.4,508.5 L1113.4,508.6 L1116.4,508.7 L1119.4,508.9 L1122.4,509.0 L1125.4,509.2 L1128.4,509.3 L1131.4,509.5 L1134.4,509.6 L1137.4,509.8 L1140.4,509.9 L1143.4,510.1 L1146.4,510.2 L1149.4,510.4 L1152.4,510.5 L1155.4,510.7 L1158.5,510.8 L1161.5,511.0 L1164.5,511.1 L1167.5,511.3 L1170.5,511.4 L1173.5,511.6 L1176.5,511.7 L1179.5,511.9 L1182.5,512.0 L1185.5,512.2 L1188.5,512.3 L1191.5,512.5 L1194.5,512.6 L1197.5,512.8 L1200.5,512.9 L1203.5,513.1 L1206.5,513.2 L1209.5,513.4 L1212.6,513.5 L1215.6,513.7 L1218.6,513.8 L1221.6,514.0 L1224.6,514.1 L1227.6,514.3 L1230.6,514.5 L1233.6,514.6 L1236.6,514.8 L1239.6,514.9 L1242.6,515.1 L1245.6,515.2 L1248.6,515.4 L1251.6,515.5 L1254.6,515.7 L1257.6,515.9 L1260.6,516.0 L1263.6,516.2 L1266.7,516.3 L1269.7,516.5 L1272.7,516.6 L1275.7,516.8 L1278.7,517.0 L1281.7,517.1 L1284.7,517.3 L1287.7,517.4 L1290.7,517.6 L1293.7,517.7 L1296.7,517.9 L1299.7,518.1 L1302.7,518.2 L1305.7,518.4 L1308.7,518.5 L1311.7,518.7 L1314.7,518.9 L1317.7,519.0 L1320.7,519.2 L1323.8,519.3 L1326.8,519.5 L1329.8,519.7 L1332.8,519.8 L1335.8,520.0 L1338.8,520.1 L1341.8,520.3 L1344.8,520.5 L1347.8,520.6 L1350.8,520.8 L1353.8,521.0 L1356.8,521.1 L1359.8,521.3 L1362.8,521.4 L1365.8,521.6 L1368.8,521.8 L1371.8,521.9 L1374.8,522.1 L1377.8,522.3 L1380.8,522.4 L1383.8,522.6 L1386.9,522.7 L1389.9,522.9 L1392.9,523.1 L1395.9,523.2 L1398.9,523.4 L1401.9,523.6 L1404.9,523.7 L1407.9,523.9 L1410.9,524.1 L1413.9,524.2 L1416.9,524.4 L1419.9,524.5 L1422.9,524.7 L1425.9,524.9 L1428.9,525.0 L1431.9,525.2 L1434.9,525.4 L1437.9,525.5 L1440.9,525.7 L1443.9,525.9 L1446.9,526.0 L1449.9,526.2 L1452.9,526.4 L1455.9,526.5 L1458.9,526.7 L1461.9,526.9 L1464.9,527.0 L1468.0,527.2 L1471.0,527.3 L1474.0,527.5 L1477.0,527.7 L1480.0,527.8 L1483.0,528.0 L1486.0,528.2 L1489.0,528.3 L1492.0,528.5 L1495.0,528.7 L1498.0,528.8 L1501.0,529.0 L1504.0,529.2 L1507.0,529.3 L1510.0,529.5 L1513.0,529.7 L1516.0,529.8 L1519.0,530.0 L1522.0,530.2 L1525.0,530.3 L1528.0,530.5 L1531.0,530.7 L1534.0,530.8 L1537.0,531.0 L1540.0,531.2 L1543.0,531.3 L1546.0,531.5 L1549.0,531.7 L1552.0,531.8 L1555.0,532.0 L1558.0,532.2 L1561.0,532.3 L1564.0,532.5 L1567.0,532.7 L1570.0,532.8 L1573.0,533.0 L1576.0,533.2 L1579.0,533.3 L1582.0,533.5 L1585.0,533.7 L1588.0,533.8 L1591.0,534.0 L1594.0,534.2 L1597.0,534.3 L1600.0,534.5 L1603.0,534.7 L1606.0,534.8 L1609.0,535.0 L1612.0,535.2 L1615.0,535.3 L1618.0,535.5 L1621.0,535.7 L1624.0,535.9 L1627.0,536.0 L1630.0,536.2" stroke="#009a1c" stroke-width="6.64" stroke-dasharray="13.29 13.29" stroke-dashoffset="-1.2"/>
<path d="M206.3,437.7 L209.4,437.7 L212.4,437.6 L215.5,437.5 L218.6,437.5 L221.6,437.5 L224.6,437.5 L227.7,437.5 L230.7,437.5 L233.7,437.5 L236.8,437.5 L239.8,437.5 L242.8,437.5 L245.8,437.5 L248.8,437.5 L251.8,437.5 L254.8,437.5 L257.8,437.5 L260.8,437.5 L263.8,437.5 L266.8,437.5 L269.8,437.5 L272.8,437.5 L275.8,437.4 L278.8,437.4 L281.8,437.3 L284.8,437.2 L287.8,437.1 L290.8,437.0 L293.8,436.8 L296.8,436.7 L299.9,436.5 L302.9,436.3 L305.9,436.1 L309.0,435.9 L312.0,435.6 L315.1,435.3 L318.1,435.0 L321.2,434.6 L324.3,434.2 L327.4,433.8 L330.4,433.3 L333.5,432.8 L336.5,432.3 L339.6,431.6 L342.6,430.9 L345.6,430.2 L348.5,429.4 L351.4,428.5 L354.3,427.5 L357.1,426.4 L359.8,425.2 L362.5,424.0 L365.2,422.6 L367.8,421.1 L370.3,419.6 L372.7,417.9 L375.0,416.0 L377.3,414.1 L379.4,412.1 L381.5,410.0 L383.5,407.7 L385.4,405.4 L387.1,403.0 L388.8,400.5 L390.4,398.0 L391.8,395.3 L393.2,392.6 L394.4,389.8 L395.6,387.0 L396.7,384.2 L397.7,381.3 L398.6,378.4 L399.5,375.4 L400.2,372.4 L400.9,369.4 L401.6,366.4 L402.2,363.4 L402.7,360.4 L403.3,357.4 L403.7,354.4 L404.2,351.3 L404.6,348.3 L405.0,345.3 L405.4,342.3 L405.8,339.2 L406.1,336.2 L406.5,333.2 L406.8,330.2 L407.1,327.2 L407.4,324.2 L407.6,321.2 L407.9,318.2 L408.1,315.1 L408.4,312.1 L408.6,309.1 L408.8,306.1 L409.0,303.1 L409.2,300.1 L409.4,297.1 L409.6,294.1 L409.8,291.1 L410.0,288.0 L410.2,285.0 L410.4,282.0 L410.6,279.0 L410.7,276.0 L410.9,273.0 L411.0,270.0 L411.2,266.9 L411.3,263.9 L411.5,260.9 L411.6,257.9 L411.8,254.9 L411.9,251.8 L412.0,248.8 L412.2,245.8 L412.3,242.8 L412.4,239.7 L412.5,236.7 L412.6,233.7 L412.7,230.7 L412.8,227.6 L412.9,224.6 L413.0,221.6 L413.1,218.6 L413.2,215.5 L413.3,212.5 L413.4,209.5 L413.5,206.5 L413.6,203.4 L413.6,200.4 L413.7,197.4 L413.8,194.4 L413.8,191.3 L413.9,188.3 L414.0,185.3 L414.0,182.2 L414.1,179.2 L414.1,176.2 L414.2,173.2 L414.3,170.1 L414.3,167.1 L414.3,164.1 L414.4,161.0 L414.4,158.0 L414.5,155.0 L414.5,151.9 L414.6,148.9 L414.6,145.9 L414.6,142.9 L414.7,139.8 L414.7,136.8 L414.7,133.8 L414.8,130.7 L414.8,127.7 L414.8,124.7 L414.8,121.7 L414.9,118.6 L414.9,115.6 L414.9,112.6 L414.9,109.5 L415.0,106.5 L415.0,103.5 L415.0,100.5 L415.0,97.4 L415.1,94.4 L415.1,91.4 L415.1,88.3 L415.1,85.3 L415.1,82.3 L415.2,79.3 L415.2,76.2 L415.2,73.2 L415.2,70.2 L415.2,67.2 L415.3,64.2 L415.3,61.1 L415.3,58.1 L415.3,55.1 L415.3,52.1 L415.4,49.0 L415.4,46.0" stroke="#8f52bb" stroke-width="6.64" stroke-dasharray="13.29 13.29"/>
<path d="M424.2,873.5 L424.2,870.5 L424.3,867.5 L424.3,864.5 L424.3,861.5 L424.4,858.5 L424.4,855.5 L424.4,852.5 L424.5,849.5 L424.5,846.5 L424.5,843.4 L424.5,840.4 L424.6,837.4 L424.6,834.4 L424.6,831.4 L424.7,828.4 L424.7,825.4 L424.7,822.4 L424.7,819.4 L424.8,816.3 L424.8,813.3 L424.8,810.3 L424.8,807.3 L424.9,804.3 L424.9,801.3 L424.9,798.3 L425.0,795.2 L425.0,792.2 L425.0,789.2 L425.1,786.2 L425.1,783.2 L425.1,780.2 L425.2,777.1 L425.2,774.1 L425.2,771.1 L425.3,768.1 L425.3,765.1 L425.4,762.1 L425.4,759.1 L425.5,756.1 L425.5,753.0 L425.6,750.0 L425.6,747.0 L425.7,744.0 L425.7,741.0 L425.8,738.0 L425.9,735.0 L425.9,732.0 L426.0,729.0 L426.1,726.0 L426.2,722.9 L426.2,719.9 L426.3,716.9 L426.4,713.9 L426.5,710.9 L426.6,707.9 L426.7,704.9 L426.7,701.9 L426.8,698.9 L426.9,695.9 L427.0,692.9 L427.2,689.9 L427.3,686.9 L427.4,683.9 L427.5,680.9 L427.6,677.9 L427.7,674.9 L427.8,671.9 L428.0,668.9 L428.1,665.9 L428.2,662.9 L428.4,659.9 L428.5,656.9 L428.6,653.9 L428.8,650.9 L428.9,647.9 L429.1,644.9 L429.2,641.9 L429.4,638.9 L429.5,635.9 L429.7,632.9 L429.9,629.9 L430.0,626.9 L430.2,623.8 L430.4,620.8 L430.5,617.8 L430.7,614.8 L430.9,611.8 L431.1,608.8 L431.3,605.8 L431.5,602.7 L431.7,599.7 L431.9,596.7 L432.1,593.7 L432.3,590.7 L432.5,587.6 L432.7,584.6 L433.0,581.6 L433.3,578.6 L433.6,575.6 L433.9,572.6 L434.2,569.6 L434.6,566.6 L435.0,563.6 L435.5,560.6 L435.9,557.6 L436.5,554.7 L437.0,551.7 L437.6,548.8 L438.3,545.8 L439.0,542.9 L439.7,540.0 L440.6,537.1 L441.4,534.3 L442.4,531.4 L443.4,528.6 L444.4,525.7 L445.5,522.9 L446.7,520.1 L448.0,517.4 L449.4,514.6 L450.8,512.0 L452.4,509.4 L454.0,506.8 L455.8,504.4 L457.6,502.1 L459.6,499.9 L461.8,497.8 L464.0,495.8 L466.4,494.0 L468.8,492.3 L471.3,490.7 L473.9,489.2 L476.6,487.8 L479.3,486.5 L482.1,485.2 L484.8,484.1 L487.6,483.1 L490.5,482.1 L493.3,481.2 L496.2,480.4 L499.1,479.6 L502.0,479.0 L504.9,478.3 L507.8,477.8 L510.8,477.3 L513.8,476.8 L516.8,476.4 L519.8,476.1 L522.8,475.8 L525.8,475.5 L528.8,475.3 L531.8,475.1 L534.9,474.9 L537.9,474.7 L540.9,474.6 L544.0,474.5 L547.0,474.5 L550.1,474.4 L553.1,474.4 L556.2,474.3 L559.2,474.3 L562.3,474.3 L565.3,474.2 L568.3,474.2 L571.4,474.2 L574.4,474.2 L577.4,474.1 L580.4,474.1 L583.5,474.1 L586.5,474.1 L589.5,474.1 L592.5,474.1 L595.5,474.0 L598.5,474.0 L601.5,474.0 L604.5,474.0 L607.5,474.0 L610.5,474.0 L613.5,474.0 L616.5,474.0 L619.5,474.0 L622.5,474.0 L625.5,474.0 L628.5,474.0 L631.5,474.1 L634.5,474.1 L637.5,474.1 L640.5,474.1 L643.5,474.1 L646.5,474.2 L649.5,474.2 L652.5,474.2 L655.6,474.3 L658.6,474.3 L661.6,474.3 L664.6,474.4 L667.6,474.4 L670.6,474.4 L673.6,474.5 L676.6,474.5 L679.6,474.6 L682.6,474.6 L685.6,474.7 L688.6,474.7 L691.6,474.8 L694.6,474.9 L697.6,474.9 L700.6,475.0 L703.6,475.0 L706.6,475.1 L709.7,475.2 L712.7,475.2 L715.7,475.3 L718.7,475.4 L721.7,475.4 L724.7,475.5 L727.7,475.6 L730.7,475.7 L733.7,475.7 L736.7,475.8 L739.7,475.9 L742.7,476.0 L745.7,476.1 L748.8,476.2 L751.8,476.2 L754.8,476.3 L757.8,476.4 L760.8,476.5 L763.8,476.6 L766.8,476.7 L769.8,476.8 L772.8,476.9 L775.8,477.0 L778.8,477.1 L781.8,477.2 L784.9,477.3 L787.9,477.4 L790.9,477.5 L793.9,477.6 L796.9,477.7 L799.9,477.8 L802.9,477.9 L805.9,478.0 L808.9,478.1 L811.9,478.2 L815.0,478.3 L818.0,478.4 L821.0,478.6 L824.0,478.7 L827.0,478.8 L830.0,478.9 L833.0,479.0 L836.0,479.1 L839.0,479.2 L842.0,479.4 L845.0,479.5 L848.1,479.6 L851.1,479.7 L854.1,479.8 L857.1,479.9 L860.1,480.1 L863.1,480.2 L866.1,480.3 L869.1,480.4 L872.1,480.5 L875.1,480.7 L878.2,480.8 L881.2,480.9 L884.2,481.0 L887.2,481.1 L890.2,481.3 L893.2,481.4 L896.2,481.5 L899.2,481.6 L902.2,481.8 L905.2,481.9 L908.2,482.0 L911.3,482.1 L914.3,482.2 L917.3,482.4 L920.3,482.5 L923.3,482.6 L926.3,482.7 L929.3,482.9 L932.3,483.0 L935.3,483.1 L938.3,483.2 L941.3,483.4 L944.4,483.5 L947.4,483.6 L950.4,483.7 L953.4,483.9 L956.4,484.0 L959.4,484.1 L962.4,484.2 L965.4,484.3 L968.4,484.5 L971.4,484.6 L974.4,484.7 L977.5,484.8 L980.5,485.0 L983.5,485.1 L986.5,485.2 L989.5,485.3 L992.5,485.5 L995.5,485.6 L998.5,485.7 L1001.5,485.8 L1004.5,486.0 L1007.5,486.1 L1010.5,486.2 L1013.5,486.3 L1016.6,486.5 L1019.6,486.6 L1022.6,486.7 L1025.6,486.8 L1028.6,487.0 L1031.6,487.1 L1034.6,487.2 L1037.6,487.3 L1040.6,487.5 L1043.6,487.6 L1046.6,487.7 L1049.6,487.9 L1052.6,488.0 L1055.7,488.1 L1058.7,488.2 L1061.7,488.4 L1064.7,488.5 L1067.7,488.6 L1070.7,488.7 L1073.7,488.9 L1076.7,489.0 L1079.7,489.1 L1082.7,489.2 L1085.7,489.4 L1088.7,489.5 L1091.7,489.6 L1094.7,489.7 L1097.8,489.9 L1100.8,490.0 L1103.8,490.1 L1106.8,490.3 L1109.8,490.4 L1112.8,490.5 L1115.8,490.6 L1118.8,490.8 L1121.8,490.9 L1124.8,491.0 L1127.8,491.2 L1130.8,491.3 L1133.8,491.4 L1136.8,491.5 L1139.9,491.7 L1142.9,491.8 L1145.9,491.9 L1148.9,492.0 L1151.9,492.2 L1154.9,492.3 L1157.9,492.4 L1160.9,492.6 L1163.9,492.7 L1166.9,492.8 L1169.9,492.9 L1172.9,493.1 L1175.9,493.2 L1178.9,493.3 L1181.9,493.5 L1185.0,493.6 L1188.0,493.7 L1191.0,493.9 L1194.0,494.0 L1197.0,494.1 L1200.0,494.2 L1203.0,494.4 L1206.0,494.5 L1209.0,494.6 L1212.0,494.8 L1215.0,494.9 L1218.0,495.0 L1221.0,495.1 L1224.0,495.3 L1227.0,495.4 L1230.0,495.5 L1233.1,495.7 L1236.1,495.8 L1239.1,495.9 L1242.1,496.1 L1245.1,496.2 L1248.1,496.3 L1251.1,496.5 L1254.1,496.6 L1257.1,496.7 L1260.1,496.8 L1263.1,497.0 L1266.1,497.1 L1269.1,497.2 L1272.1,497.4 L1275.1,497.5 L1278.2,497.6 L1281.2,497.8 L1284.2,497.9 L1287.2,498.0 L1290.2,498.2 L1293.2,498.3 L1296.2,498.4 L1299.2,498.6 L1302.2,498.7 L1305.2,498.8 L1308.2,498.9 L1311.2,499.1 L1314.2,499.2 L1317.2,499.3 L1320.2,499.5 L1323.2,499.6 L1326.3,499.7 L1329.3,499.9 L1332.3,500.0 L1335.3,500.1 L1338.3,500.3 L1341.3,500.4 L1344.3,500.5 L1347.3,500.7 L1350.3,500.8 L1353.3,500.9 L1356.3,501.1 L1359.3,501.2 L1362.3,501.3 L1365.3,501.5 L1368.3,501.6 L1371.4,501.7 L1374.4,501.9 L1377.4,502.0 L1380.4,502.1 L1383.4,502.3 L1386.4,502.4 L1389.4,502.5 L1392.4,502.7 L1395.4,502.8 L1398.4,502.9 L1401.4,503.1 L1404.4,503.2 L1407.4,503.3 L1410.4,503.5 L1413.4,503.6 L1416.5,503.7 L1419.5,503.9 L1422.5,504.0 L1425.5,504.2 L1428.5,504.3 L1431.5,504.4 L1434.5,504.6 L1437.5,504.7 L1440.5,504.8 L1443.5,505.0 L1446.5,505.1 L1449.5,505.2 L1452.5,505.4 L1455.5,505.5 L1458.6,505.6 L1461.6,505.8 L1464.6,505.9 L1467.6,506.0 L1470.6,506.2 L1473.6,506.3 L1476.6,506.5 L1479.6,506.6 L1482.6,506.7 L1485.6,506.9 L1488.6,507.0 L1491.6,507.1 L1494.6,507.3 L1497.6,507.4 L1500.7,507.5 L1503.7,507.7 L1506.7,507.8 L1509.7,508.0 L1512.7,508.1 L1515.7,508.2 L1518.7,508.4 L1521.7,508.5 L1524.7,508.6 L1527.7,508.8 L1530.7,508.9 L1533.7,509.0 L1536.7,509.2 L1539.8,509.3 L1542.8,509.5 L1545.8,509.6 L1548.8,509.7 L1551.8,509.9 L1554.8,510.0 L1557.8,510.1 L1560.8,510.3 L1563.8,510.4 L1566.8,510.6 L1569.8,510.7 L1572.8,510.8 L1575.9,511.0 L1578.9,511.1 L1581.9,511.3 L1584.9,511.4 L1587.9,511.5 L1590.9,511.7 L1593.9,511.8 L1596.9,511.9 L1599.9,512.1 L1602.9,512.2 L1605.9,512.4 L1608.9,512.5 L1612.0,512.6 L1615.0,512.8 L1618.0,512.9 L1621.0,513.1 L1624.0,513.2 L1627.0,513.3 L1630.0,513.5" stroke="#8f52bb" stroke-width="6.64" stroke-dasharray="13.29 13.29" stroke-dashoffset="-1.2"/>
</g>
<g stroke="#000" stroke-width="3.3">
<path d="M419.9,46.0 V873.8"/>
<path d="M487.7,46.0 V873.8"/>
<path d="M618.4,46.0 V873.8"/>
<path d="M1409.8,46.0 V873.8"/>
</g>
<rect x="176.9" y="1.8" width="1482.3" height="916.2" fill="none" stroke="#000" stroke-width="1.8"/>
<g stroke="#000" stroke-width="1.7" stroke-linecap="round">
<path d="M206.3,918.0 v-14"/>
<path d="M644.3,918.0 v-14"/>
<path d="M1082.3,918.0 v-14"/>
<path d="M1520.3,918.0 v-14"/>
<path d="M176.9,34.3 h14"/>
<path d="M176.9,236.1 h14"/>
<path d="M176.9,437.9 h14"/>
<path d="M176.9,639.7 h14"/>
<path d="M176.9,841.5 h14"/>
</g>
<g font-family="'Liberation Sans', Arial, Helvetica, sans-serif" font-weight="bold" font-size="40px" fill="#000">
<text transform="translate(206.10,968.40) scale(1.000,1.070)" text-anchor="middle">0</text>
<text transform="translate(644.10,968.40) scale(1.000,1.070)" text-anchor="middle">2</text>
<text transform="translate(1082.10,968.40) scale(1.000,1.070)" text-anchor="middle">4</text>
<text transform="translate(1520.10,968.40) scale(1.000,1.070)" text-anchor="middle">6</text>
<text transform="translate(166.60,49.45) scale(1.000,1.070)" text-anchor="end">100</text>
<text transform="translate(166.60,251.22) scale(1.000,1.070)" text-anchor="end">50</text>
<text transform="translate(166.60,453.00) scale(1.000,1.070)" text-anchor="end">0</text>
<text transform="translate(95.70,654.77) scale(1.000,1.070)"><tspan dy="3.8">−</tspan><tspan dx="3.3" dy="-3.8">50</tspan></text>
<text transform="translate(73.20,856.55) scale(1.000,1.070)"><tspan dy="3.8">−</tspan><tspan dx="3.3" dy="-3.8">100</tspan></text>
<text transform="translate(918.10,1037.90) scale(1.000,1.080)" text-anchor="middle" stroke="#000" stroke-width="0.5">S</text>
<text transform="translate(1.40,475.00) scale(0.950,1.050)" font-style="italic" stroke="#000" stroke-width="0.6">C</text>
<text transform="translate(30.40,481.30) scale(0.990,1.020)" font-size="29.5px" font-style="italic" stroke="#000" stroke-width="0.5">Q</text>
<text transform="translate(1145.40,68.40) scale(1.130,1.045)">Δ</text>
<text transform="translate(1177.10,71.05) scale(1.000,1.000)">=</text>
<text transform="translate(1200.46,68.90) scale(1.000,1.070)">0</text>
<text transform="translate(1145.40,136.80) scale(1.130,1.045)">Δ</text>
<text transform="translate(1177.10,139.45) scale(1.000,1.000)">=</text>
<text transform="translate(1200.46,137.30) scale(1.000,1.070)">0.5</text>
<text transform="translate(1145.40,205.20) scale(1.130,1.045)">Δ</text>
<text transform="translate(1177.10,207.85) scale(1.000,1.000)">=</text>
<text transform="translate(1200.46,205.70) scale(1.000,1.070)">1</text>
<text transform="translate(1145.40,273.70) scale(1.130,1.045)">Δ</text>
<text transform="translate(1177.10,276.35) scale(1.000,1.000)">=</text>
<text transform="translate(1200.46,274.20) scale(1.000,1.070)">1.5</text>
<text transform="translate(1145.40,342.10) scale(1.130,1.045)">Δ</text>
<text transform="translate(1177.10,344.75) scale(1.000,1.000)">=</text>
<text transform="translate(1200.46,342.60) scale(1.000,1.070)">2</text>
</g>
<g fill="none">
<path d="M999.2,54.7 H1122.2" stroke="#000" stroke-width="9.97"/>
<path d="M997.7,123.1 H1122" stroke="#2f62cc" stroke-width="6.64" stroke-dasharray="13.29 13.29"/>
<path d="M997.7,191.5 H1122" stroke="#ff9900" stroke-width="6.64" stroke-dasharray="13.29 13.29"/>
<path d="M997.7,260.0 H1122" stroke="#009a1c" stroke-width="6.64" stroke-dasharray="13.29 13.29"/>
<path d="M997.7,328.4 H1122" stroke="#8f52bb" stroke-width="6.64" stroke-dasharray="13.29 13.29"/>
</g>
</svg>
</body>
</html>
